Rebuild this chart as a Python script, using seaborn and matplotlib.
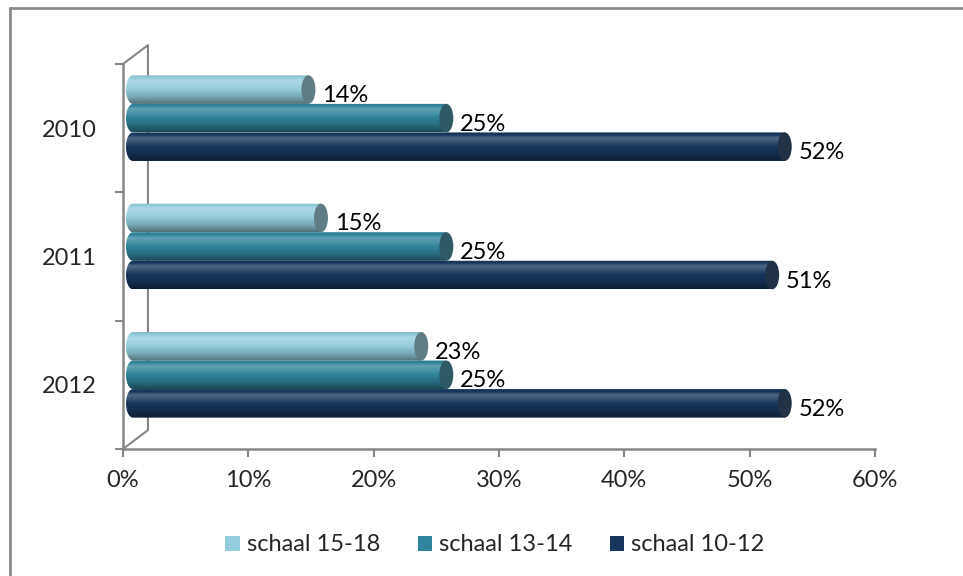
import numpy as np
import pandas as pd
import matplotlib
matplotlib.use("Agg")
import matplotlib.pyplot as plt
import seaborn as sns
from matplotlib.patches import Polygon, Ellipse, Patch
from matplotlib.lines import Line2D
from matplotlib.ticker import FuncFormatter

# data
years = ["2010", "2011", "2012"]
schaal_15_18 = [14, 15, 23]
schaal_13_14 = [25, 25, 25]
schaal_10_12 = [52, 51, 52]
series = ["schaal 15-18", "schaal 13-14", "schaal 10-12"]
colors = ["#93CDDD", "#31859C", "#17375E"]

df = pd.DataFrame({
    "year": years * 3,
    "value": schaal_15_18 + schaal_13_14 + schaal_10_12,
    "schaal": [s for s in series for _ in years],
})

sns.set_theme(style="white")
plt.rcParams["font.family"] = ["Lato", "DejaVu Sans"]
FS = 17
GRAY = "#868686"

fig = plt.figure(figsize=(9.63, 5.76), dpi=100)
ax = fig.add_axes([0.1277, 0.2205, 0.7809, 0.6684])

sns.barplot(data=df, x="value", y="year", hue="schaal", hue_order=series,
            order=years, palette=colors, orient="h", width=0.667,
            saturation=1, legend=False, ax=ax)

# pseudo-3D look: shift bars a little up/right, shade them like cylinders
px_x = 60 / 752.0
px_y = 3 / 385.0
dx, dy = 10 * px_x, -10 * px_y
cw = 14 * px_x


def shade(c, k):
    c = np.asarray(c[:3])
    if k > 1:
        return c + (1 - c) * (k - 1) * 2
    return c * k


prof_t = [0.0, 0.2, 0.45, 0.75, 1.0]
prof_k = [0.9, 1.12, 1.02, 0.82, 0.55]

vals = {s: v for s, v in zip(series, [schaal_15_18, schaal_13_14, schaal_10_12])}
bars = [p for p in ax.patches]
for p in bars:
    x0, y0, w, h = p.get_x(), p.get_y(), p.get_width(), p.get_height()
    base = p.get_facecolor()
    p.set_visible(False)
    if w <= 0:
        continue
    top = y0 + dy
    bot = top + h
    yc = top + h / 2
    xs, xe = x0 + dx, x0 + w + dx
    t = np.linspace(0, 1, 64)
    ks = np.interp(t, prof_t, prof_k)
    img = np.array([[shade(base, k)] * 2 for k in ks]).clip(0, 1)
    th = np.linspace(np.pi / 2, 3 * np.pi / 2, 30)
    pts = [(xs + cw / 2 * np.cos(a), yc - h / 2 * np.sin(a)) for a in th]
    pts += [(xe, bot), (xe, top)]
    poly = Polygon(pts, closed=True, transform=ax.transData)
    im = ax.imshow(img, extent=(xs - cw / 2, xe, bot, top), aspect="auto",
                   interpolation="bilinear", zorder=2)
    im.set_clip_path(poly)
    cap = shade(base, 0.62) * 0.8 + np.array([0.45, 0.45, 0.45]) * 0.2
    ax.add_patch(Ellipse((xe, yc), cw, h, facecolor=cap, edgecolor="none",
                         zorder=3))
    ax.annotate(f"{w:.0f}%", xy=(x0 + w, y0 + h / 2), xytext=(24, 4),
                textcoords="offset pixels", ha="left", va="center",
                fontsize=FS, color="black")

ax.set_xlim(0, 60)
ax.set_ylim(2.5, -0.5)
ax.set_xticks(np.arange(0, 61, 10))
ax.xaxis.set_major_formatter(FuncFormatter(lambda x, pos: f"{x:.0f}%"))
ax.set_yticks(range(len(years)))
ax.set_yticklabels(years)
ax.set_yticks(np.arange(-0.5, 3, 1), minor=True)
ax.set_xlabel("")
ax.set_ylabel("")
ax.tick_params(axis="x", length=6, width=1.5, color=GRAY, pad=9,
               labelsize=FS, bottom=True, direction="out")
ax.tick_params(axis="y", which="major", length=0, pad=19, labelsize=FS)
ax.tick_params(axis="y", which="minor", length=6, width=1.5, color=GRAY,
               left=True, direction="out")
for side in ["top", "right"]:
    ax.spines[side].set_visible(False)
for side in ["left", "bottom"]:
    ax.spines[side].set_color(GRAY)
    ax.spines[side].set_linewidth(1.8)
ax.grid(False)

# back wall of the 3D frame
wx, wy = 0.0332, 0.049
ax.plot([0, wx, wx, 0], [1.0, 1.0 + wy, wy, 0], transform=ax.transAxes,
        color=GRAY, lw=1.5, clip_on=False, zorder=1)

handles = [Patch(facecolor=c, edgecolor="none", label=s) for c, s in zip(colors, series)]
fig.legend(handles=handles, loc="center", bbox_to_anchor=(0.514, 0.054),
           ncol=3, frameon=False, fontsize=FS, handlelength=0.6,
           handleheight=0.6, handletextpad=0.3, columnspacing=1.6)

# chart area border (cut off at right/bottom)
fig.add_artist(Line2D([10 / 963, 10 / 963], [0, 1 - 8 / 576],
                      transform=fig.transFigure, color="#8c8c8c", lw=2))
fig.add_artist(Line2D([10 / 963, 1], [1 - 8 / 576, 1 - 8 / 576],
                      transform=fig.transFigure, color="#8c8c8c", lw=2))

fig.savefig("out.png", dpi=100)
